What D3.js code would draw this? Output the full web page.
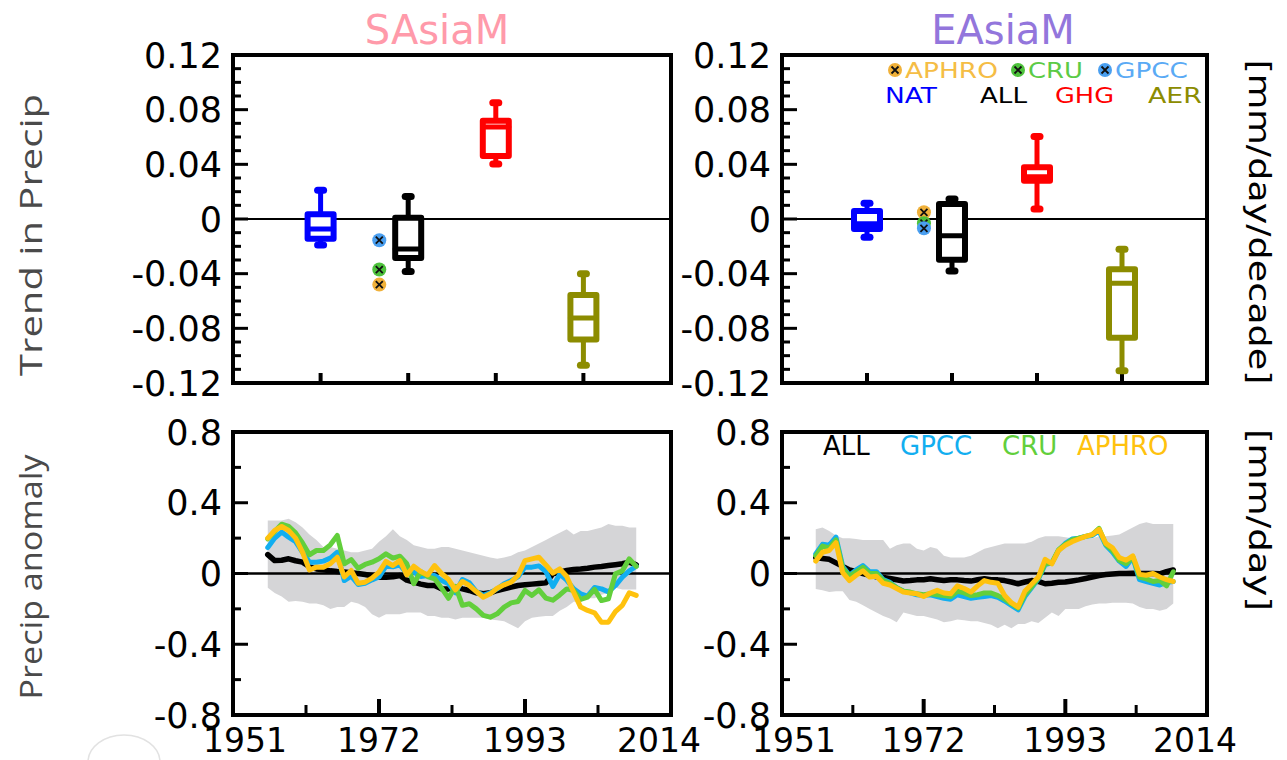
<!DOCTYPE html>
<html>
<head>
<meta charset="utf-8">
<script src="https://cdn.jsdelivr.net/npm/d3@7"></script>
<style>
  body { margin: 0; background: #ffffff; }
  svg text { font-family: "DejaVu Sans", sans-serif; }
</style>
</head>
<body>
<svg id="chart" width="1287" height="760"></svg>
<script>
// ---- data ----
var trendCats = ["NAT", "ALL", "GHG", "AER"];
var trendColors = ["#0000ff", "#000000", "#ff0000", "#8c8c00"];
// box stats per category: [low whisker, q1, median, q3, high whisker]
var sasiaBoxes = [
    [-0.019, -0.0145, -0.0074, 0.0035, 0.021],
    [-0.0385, -0.0285, -0.022, 0.001, 0.0164],
    [0.0403, 0.0461, 0.0674, 0.0718, 0.085],
    [-0.107, -0.0881, -0.0724, -0.0557, -0.040]
];
var easiaBoxes = [
    [-0.0134, -0.0073, -0.0035, 0.0059, 0.0115],
    [-0.038, -0.0298, -0.0122, 0.011, 0.0147],
    [0.0073, 0.0279, 0.031, 0.0379, 0.0604],
    [-0.111, -0.0869, -0.047, -0.0368, -0.0222]
];
var obsNames = ["APHRO", "CRU", "GPCC"];
var obsColors = ["#f0b13a", "#4ec23c", "#4a9ff0"];
var obsTextColors = ["#f5bd45", "#5ccb46", "#5aaaf5"];
var sasiaObs = [-0.048, -0.037, -0.0155];
var easiaObs = [0.0049, -0.0031, -0.0068];

var trendTicks = [0.12, 0.08, 0.04, 0, -0.04, -0.08, -0.12];
var trendTickLabels = ["0.12", "0.08", "0.04", "0", "-0.04", "-0.08", "-0.12"];
var anomTicks = [0.8, 0.4, 0, -0.4, -0.8];
var anomTickLabels = ["0.8", "0.4", "0", "-0.4", "-0.8"];
var yearTicks = [1951, 1972, 1993, 2014];
var yearMinor = [1961.5, 1982.5, 2003.5];

var years = [1956,1957,1958,1959,1960,1961,1962,1963,1964,1965,
             1966,1967,1968,1969,1970,1971,1972,1973,1974,1975,
             1976,1977,1978,1979,1980,1981,1982,1983,1984,1985,
             1986,1987,1988,1989,1990,1991,1992,1993,1994,1995,
             1996,1997,1998,1999,2000,2001,2002,2003,2004,2005,
             2006,2007,2008,2009];

// SAsiaM anomalies
var sasiaALL = [0.107,0.073,0.075,0.083,0.072,0.064,0.038,0.026,0.021,0.015,
                0.011,0.008,0.004,0.0,-0.006,-0.013,-0.021,-0.021,-0.019,-0.011,
                -0.038,-0.049,-0.06,-0.068,-0.068,-0.087,-0.087,-0.077,-0.087,-0.096,
                -0.109,-0.115,-0.109,-0.096,-0.087,-0.077,-0.068,-0.064,-0.06,-0.056,
                -0.053,-0.002,0.008,0.017,0.023,0.026,0.03,0.036,0.04,0.045,
                0.05,0.055,0.064,0.049];
var sasiaGPCC = [0.147,0.2,0.234,0.205,0.18,0.12,0.064,0.064,0.07,0.087,
                 0.12,-0.04,-0.015,-0.062,-0.055,-0.036,-0.02,0.041,0.038,0.049,
                 0.0,0.008,-0.017,-0.011,-0.011,-0.04,-0.058,-0.109,-0.034,-0.053,
                 -0.102,-0.124,-0.109,-0.087,-0.058,-0.04,-0.019,0.036,0.036,0.043,
                 0.011,-0.073,-0.004,-0.038,-0.087,-0.115,-0.128,-0.079,-0.087,-0.104,
                 -0.068,-0.021,0.015,0.041];
var sasiaCRU = [0.196,0.237,0.279,0.266,0.23,0.173,0.106,0.13,0.13,0.162,
                0.215,0.055,0.079,0.03,0.051,0.064,0.083,0.111,0.087,0.098,
                0.055,-0.058,0.011,-0.017,-0.03,-0.083,-0.14,-0.073,-0.18,-0.171,
                -0.2,-0.237,-0.247,-0.228,-0.19,-0.166,-0.158,-0.096,-0.124,-0.092,
                -0.139,-0.151,-0.121,-0.087,-0.096,-0.147,-0.134,-0.09,-0.153,-0.143,
                -0.002,0.015,0.083,0.04];
var sasiaAPHRO = [0.2,0.243,0.266,0.243,0.2,0.12,0.02,0.036,0.036,0.055,
                  0.092,-0.02,0.017,-0.055,-0.049,-0.026,0.008,0.068,0.045,0.073,
                  -0.008,0.041,0.011,-0.008,0.045,0.0,-0.034,-0.092,-0.045,-0.068,
                  -0.102,-0.134,-0.115,-0.083,-0.064,-0.049,-0.011,0.073,0.083,0.092,
                  0.049,0.002,0.026,-0.017,-0.106,-0.19,-0.209,-0.222,-0.275,-0.275,
                  -0.215,-0.18,-0.109,-0.124];
var sasiaHi = [0.30,0.30,0.30,0.31,0.29,0.26,0.22,0.19,0.15,0.15,
               0.14,0.13,0.12,0.12,0.13,0.14,0.18,0.21,0.25,0.21,
               0.19,0.16,0.15,0.14,0.14,0.15,0.15,0.14,0.13,0.12,
               0.11,0.10,0.09,0.083,0.09,0.10,0.12,0.13,0.15,0.17,
               0.19,0.21,0.23,0.25,0.22,0.24,0.24,0.25,0.26,0.28,
               0.27,0.27,0.26,0.26];
var sasiaLo = [-0.08,-0.11,-0.13,-0.16,-0.155,-0.16,-0.17,-0.17,-0.18,-0.20,
               -0.19,-0.19,-0.16,-0.17,-0.19,-0.23,-0.25,-0.23,-0.23,-0.23,
               -0.22,-0.22,-0.22,-0.24,-0.24,-0.25,-0.25,-0.26,-0.25,-0.25,
               -0.25,-0.25,-0.26,-0.265,-0.27,-0.29,-0.31,-0.27,-0.25,-0.245,
               -0.24,-0.24,-0.21,-0.19,-0.16,-0.16,-0.14,-0.14,-0.12,-0.11,
               -0.08,-0.09,-0.09,-0.09];

// EAsiaM anomalies
var easiaALL = [0.09,0.085,0.08,0.06,0.04,0.02,0.01,0.0,-0.01,-0.018,
                -0.022,-0.028,-0.035,-0.042,-0.04,-0.036,-0.035,-0.03,-0.035,-0.04,
                -0.035,-0.036,-0.04,-0.043,-0.035,-0.03,-0.035,-0.036,-0.04,-0.048,
                -0.058,-0.048,-0.04,-0.045,-0.058,-0.055,-0.05,-0.048,-0.042,-0.036,
                -0.028,-0.02,-0.012,-0.006,-0.003,0.0,0.0,0.002,0.0,0.0,
                0.0,-0.002,0.01,0.02];
var easiaGPCC = [0.11,0.165,0.16,0.205,0.04,-0.01,0.02,0.045,0.01,0.01,
                 -0.035,-0.05,-0.08,-0.1,-0.11,-0.12,-0.125,-0.12,-0.13,-0.14,
                 -0.145,-0.12,-0.13,-0.14,-0.135,-0.13,-0.125,-0.135,-0.155,-0.18,
                 -0.205,-0.13,-0.08,-0.03,0.05,0.06,0.13,0.17,0.195,0.2,
                 0.21,0.215,0.24,0.16,0.12,0.07,0.04,0.09,-0.035,-0.045,
                 -0.055,-0.065,-0.05,-0.045];
var easiaCRU = [0.1,0.155,0.145,0.19,0.03,-0.015,0.01,0.035,0.0,0.0,
                -0.04,-0.055,-0.08,-0.1,-0.105,-0.115,-0.12,-0.115,-0.12,-0.125,
                -0.13,-0.1,-0.11,-0.125,-0.12,-0.11,-0.11,-0.125,-0.145,-0.17,
                -0.195,-0.12,-0.075,-0.025,0.055,0.06,0.135,0.165,0.19,0.2,
                0.21,0.22,0.255,0.165,0.13,0.075,0.055,0.095,-0.02,-0.03,
                -0.045,-0.04,-0.07,0.01];
var easiaAPHRO = [0.07,0.12,0.13,0.175,0.005,-0.04,-0.01,0.015,-0.02,-0.015,
                  -0.055,-0.065,-0.085,-0.105,-0.11,-0.115,-0.13,-0.11,-0.095,-0.11,
                  -0.115,-0.07,-0.085,-0.105,-0.07,-0.04,-0.05,-0.055,-0.124,-0.165,
                  -0.19,-0.1,-0.06,-0.02,0.08,0.055,0.13,0.16,0.18,0.195,
                  0.21,0.22,0.25,0.17,0.145,0.09,0.075,0.1,-0.005,-0.01,
                  0.0,-0.02,-0.035,-0.045];
var easiaHi = [0.25,0.26,0.24,0.215,0.2,0.2,0.195,0.19,0.19,0.19,
               0.19,0.14,0.16,0.17,0.17,0.14,0.13,0.15,0.14,0.10,
               0.09,0.09,0.09,0.10,0.12,0.14,0.15,0.16,0.17,0.17,
               0.17,0.17,0.18,0.20,0.21,0.21,0.21,0.205,0.2,0.2,
               0.2,0.2,0.21,0.21,0.215,0.22,0.24,0.26,0.28,0.29,
               0.28,0.28,0.28,0.28];
var easiaLo = [-0.087,-0.095,-0.105,-0.1,-0.1,-0.15,-0.16,-0.18,-0.2,-0.22,
               -0.24,-0.255,-0.275,-0.22,-0.23,-0.24,-0.24,-0.25,-0.26,-0.275,
               -0.27,-0.26,-0.265,-0.27,-0.27,-0.28,-0.29,-0.31,-0.29,-0.31,
               -0.285,-0.285,-0.27,-0.28,-0.25,-0.22,-0.24,-0.2,-0.2,-0.2,
               -0.185,-0.175,-0.17,-0.17,-0.165,-0.165,-0.165,-0.17,-0.19,-0.2,
               -0.2,-0.21,-0.2,-0.17];

var seriesNames = ["ALL", "GPCC", "CRU", "APHRO"];
var seriesColors = ["#000000", "#12aef0", "#62cf3c", "#ffc20e"];

// ---- layout ----
var svg = d3.select("#chart");
var leftX = [233, 671], rightX = [782, 1207];
var topY = [55, 383], botY = [432, 715];

function trendPanel(xr, boxes, obs) {
    var x = d3.scaleLinear().domain([0, 5]).range(xr);
    var y = d3.scaleLinear().domain([-0.12, 0.12]).range([topY[1], topY[0]]);
    var g = svg.append("g");

    // zero line
    g.append("line")
        .attr("x1", xr[0]).attr("x2", xr[1])
        .attr("y1", y(0)).attr("y2", y(0))
        .attr("stroke", "#000").attr("stroke-width", 2);

    // minor/major ticks on the left
    g.selectAll(".yt").data(y.ticks(24)).enter().append("line")
        .attr("x1", xr[0])
        .attr("x2", function(d) { return xr[0] + (Math.abs(d / 0.04 - Math.round(d / 0.04)) < 1e-6 ? 15 : 8); })
        .attr("y1", function(d) { return y(d); })
        .attr("y2", function(d) { return y(d); })
        .attr("stroke", "#000").attr("stroke-width", 3);

    // category ticks at bottom
    g.selectAll(".xt").data(trendCats).enter().append("line")
        .attr("x1", function(d, i) { return x(i + 1); })
        .attr("x2", function(d, i) { return x(i + 1); })
        .attr("y1", topY[1]).attr("y2", topY[1] - 10)
        .attr("stroke", "#000").attr("stroke-width", 4);

    // y labels
    g.selectAll(".yl").data(trendTicks).enter().append("text")
        .attr("x", xr[0] - 11)
        .attr("y", function(d) { return y(d); })
        .attr("dy", "0.36em")
        .attr("text-anchor", "end")
        .attr("font-size", 35)
        .text(function(d, i) { return trendTickLabels[i]; });

    // boxes
    var bw = 13;
    boxes.forEach(function(b, i) {
        var cx = x(i + 1), col = trendColors[i];
        var bg = g.append("g")
            .attr("stroke", col)
            .attr("stroke-linecap", "round")
            .attr("stroke-linejoin", "round");
        bg.append("line").attr("x1", cx).attr("x2", cx)
            .attr("y1", y(b[4])).attr("y2", y(b[3])).attr("stroke-width", 5);
        bg.append("line").attr("x1", cx).attr("x2", cx)
            .attr("y1", y(b[1])).attr("y2", y(b[0])).attr("stroke-width", 5);
        [b[0], b[4]].forEach(function(v) {
            bg.append("line").attr("x1", cx - 3).attr("x2", cx + 3)
                .attr("y1", y(v)).attr("y2", y(v)).attr("stroke-width", 7);
        });
        bg.append("rect")
            .attr("x", cx - bw).attr("width", bw * 2)
            .attr("y", y(b[3])).attr("height", y(b[1]) - y(b[3]))
            .attr("fill", "#fff").attr("stroke-width", 6);
        bg.append("line").attr("x1", cx - bw).attr("x2", cx + bw)
            .attr("y1", y(b[2])).attr("y2", y(b[2])).attr("stroke-width", 5);
    });

    // observed trends
    var ox = x(1.67);
    obs.forEach(function(v, i) {
        drawObsMarker(g, ox, y(v), obsColors[i]);
    });

    frame(xr, topY);
    return g;
}

function drawObsMarker(g, cx, cy, col) {
    g.append("circle").attr("cx", cx).attr("cy", cy).attr("r", 7).attr("fill", col);
    g.append("path")
        .attr("d", "M" + (cx - 3.5) + "," + (cy - 3.5) + "L" + (cx + 3.5) + "," + (cy + 3.5) +
                   "M" + (cx + 3.5) + "," + (cy - 3.5) + "L" + (cx - 3.5) + "," + (cy + 3.5))
        .attr("stroke", "#111").attr("stroke-width", 1.8);
}

function anomPanel(xr, series, hi, lo) {
    var x = d3.scaleLinear().domain([1951, 2014]).range(xr);
    var y = d3.scaleLinear().domain([-0.8, 0.8]).range([botY[1], botY[0]]);
    var g = svg.append("g");

    // spread band
    var area = d3.area()
        .x(function(d, i) { return x(years[i]); })
        .y0(function(d, i) { return y(lo[i]); })
        .y1(function(d, i) { return y(hi[i]); });
    g.append("path").datum(hi).attr("d", area).attr("fill", "#d5d5d7");

    g.append("line")
        .attr("x1", xr[0]).attr("x2", xr[1])
        .attr("y1", y(0)).attr("y2", y(0))
        .attr("stroke", "#000").attr("stroke-width", 2.5);

    var line = d3.line()
        .x(function(d, i) { return x(years[i]); })
        .y(function(d) { return y(d); });
    series.forEach(function(s, i) {
        g.append("path").datum(s)
            .attr("d", line)
            .attr("fill", "none")
            .attr("stroke", seriesColors[i])
            .attr("stroke-width", i == 0 ? 5.5 : 5)
            .attr("stroke-linejoin", "round")
            .attr("stroke-linecap", "round");
    });

    // ticks
    g.selectAll(".yt").data(y.ticks(8)).enter().append("line")
        .attr("x1", xr[0])
        .attr("x2", function(d) { return xr[0] + (Math.abs(d / 0.4 - Math.round(d / 0.4)) < 1e-6 ? 15 : 8); })
        .attr("y1", function(d) { return y(d); })
        .attr("y2", function(d) { return y(d); })
        .attr("stroke", "#000").attr("stroke-width", 3);
    g.selectAll(".xt").data(yearTicks.slice(1, 3)).enter().append("line")
        .attr("x1", function(d) { return x(d); }).attr("x2", function(d) { return x(d); })
        .attr("y1", botY[1]).attr("y2", botY[1] - 16)
        .attr("stroke", "#000").attr("stroke-width", 4);
    g.selectAll(".xm").data(yearMinor).enter().append("line")
        .attr("x1", function(d) { return x(d); }).attr("x2", function(d) { return x(d); })
        .attr("y1", botY[1]).attr("y2", botY[1] - 10)
        .attr("stroke", "#000").attr("stroke-width", 3);

    // labels
    g.selectAll(".yl").data(anomTicks).enter().append("text")
        .attr("x", xr[0] - 11)
        .attr("y", function(d) { return y(d); })
        .attr("dy", "0.36em")
        .attr("text-anchor", "end")
        .attr("font-size", 35)
        .text(function(d, i) { return anomTickLabels[i]; });
    g.selectAll(".xl").data(yearTicks).enter().append("text")
        .attr("x", function(d, i) { return x(d) + (i == 0 ? 12 : (i == 3 ? -12 : 0)); })
        .attr("y", 752)
        .attr("text-anchor", "middle")
        .attr("font-size", 33)
        .text(function(d) { return d; });

    frame(xr, botY);
    return g;
}

function frame(xr, yr) {
    svg.append("rect")
        .attr("x", xr[0]).attr("y", yr[0])
        .attr("width", xr[1] - xr[0]).attr("height", yr[1] - yr[0])
        .attr("fill", "none").attr("stroke", "#000").attr("stroke-width", 4);
}

trendPanel(leftX, sasiaBoxes, sasiaObs);
trendPanel(rightX, easiaBoxes, easiaObs);
anomPanel(leftX, [sasiaALL, sasiaGPCC, sasiaCRU, sasiaAPHRO], sasiaHi, sasiaLo);
anomPanel(rightX, [easiaALL, easiaGPCC, easiaCRU, easiaAPHRO], easiaHi, easiaLo);

// titles
svg.append("text").attr("x", 437).attr("y", 44).attr("text-anchor", "middle")
    .attr("font-size", 40).attr("fill", "#ff9aaa").text("SAsiaM");
svg.append("text").attr("x", 1003).attr("y", 44).attr("text-anchor", "middle")
    .attr("font-size", 40).attr("fill", "#9376dc").text("EAsiaM");

// left axis titles
svg.append("text")
    .attr("transform", "translate(42,235) rotate(-90)")
    .attr("text-anchor", "middle")
    .attr("font-size", 31)
    .attr("textLength", 282).attr("lengthAdjust", "spacingAndGlyphs")
    .style("font-family", "'Open Sans', sans-serif")
    .attr("fill", "#4a4a4a")
    .text("Trend in Precip");
svg.append("text")
    .attr("transform", "translate(42,577) rotate(-90)")
    .attr("text-anchor", "middle")
    .attr("font-size", 31)
    .attr("textLength", 245).attr("lengthAdjust", "spacingAndGlyphs")
    .style("font-family", "'Open Sans', sans-serif")
    .attr("fill", "#4a4a4a")
    .text("Precip anomaly");

// right unit labels
svg.append("text")
    .attr("transform", "translate(1249,222) rotate(90)")
    .attr("text-anchor", "middle")
    .attr("font-size", 30)
    .attr("textLength", 325).attr("lengthAdjust", "spacingAndGlyphs")
    .text("[mm/day/decade]");
svg.append("text")
    .attr("transform", "translate(1249,520) rotate(90)")
    .attr("text-anchor", "middle")
    .attr("font-size", 30)
    .attr("textLength", 182).attr("lengthAdjust", "spacingAndGlyphs")
    .text("[mm/day]");

// legend, top right: observations
var obsLegX = [895, 1018, 1105];
var obsLegW = [93, 55, 73];
obsNames.forEach(function(n, i) {
    drawObsMarker(svg, obsLegX[i], 70, obsColors[i]);
    svg.append("text").attr("x", obsLegX[i] + 10).attr("y", 78)
        .attr("font-size", 22)
        .attr("textLength", obsLegW[i]).attr("lengthAdjust", "spacingAndGlyphs")
        .attr("fill", obsTextColors[i]).text(n);
});
// legend, top right: experiments
var catLegX = [885, 980, 1055, 1148];
var catLegW = [52, 47, 59, 54];
trendCats.forEach(function(n, i) {
    svg.append("text").attr("x", catLegX[i]).attr("y", 103)
        .attr("font-size", 22)
        .attr("textLength", catLegW[i]).attr("lengthAdjust", "spacingAndGlyphs")
        .attr("fill", trendColors[i]).text(n);
});
// legend, bottom right
var serLegX = [823, 900, 1002, 1077];
seriesNames.forEach(function(n, i) {
    svg.append("text").attr("x", serLegX[i]).attr("y", 455)
        .attr("font-size", 26).attr("fill", seriesColors[i]).text(n);
});

// faint round mark at lower left corner
svg.append("ellipse").attr("cx", 124).attr("cy", 762).attr("rx", 36).attr("ry", 27)
    .attr("fill", "#fff").attr("stroke", "#e2e2e2").attr("stroke-width", 1.5);
</script>
</body>
</html>
